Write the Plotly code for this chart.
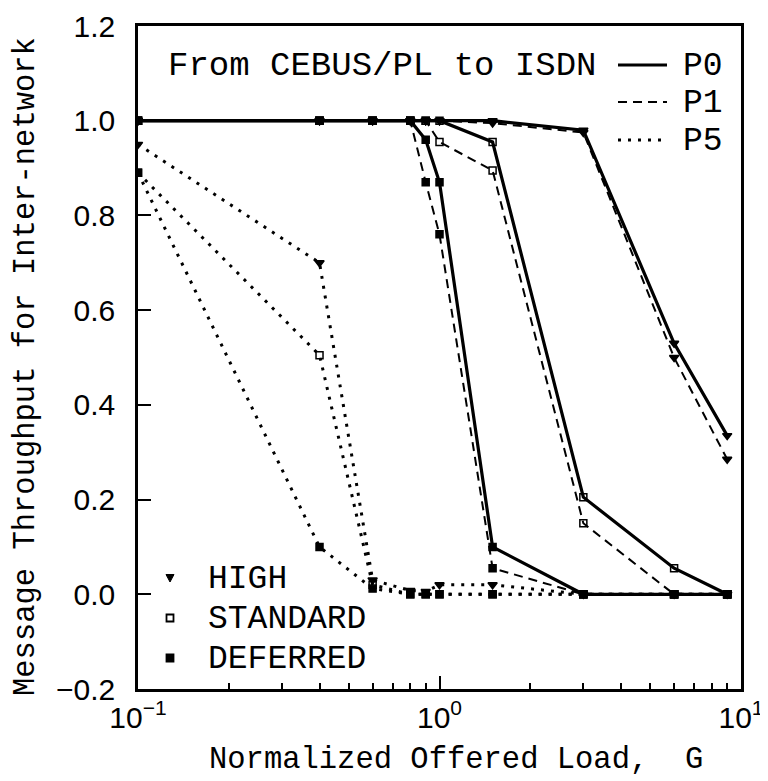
import plotly.graph_objects as go

# ---------------- data ----------------
G = [0.1, 0.4, 0.6, 0.8, 0.9, 1.0, 1.5, 3, 6, 9]

HIGH_P0 = [1.0, 1.0, 1.0, 1.0, 1.0, 1.0, 1.0, 0.98, 0.53, 0.335]
HIGH_P1 = [1.0, 1.0, 1.0, 1.0, 1.0, 1.0, 0.995, 0.975, 0.50, 0.285]
HIGH_P5 = [0.95, 0.70, 0.03, 0.008, 0.006, 0.02, 0.02, 0.0, 0.0, 0.0]

STANDARD_P0 = [1.0, 1.0, 1.0, 1.0, 1.0, 1.0, 0.955, 0.205, 0.055, 0.0]
STANDARD_P1 = [1.0, 1.0, 1.0, 1.0, 1.0, 0.955, 0.895, 0.15, 0.0, 0.0]
STANDARD_P5 = [0.89, 0.505, 0.02, 0.0, 0.0, 0.0, 0.0, 0.0, 0.0, 0.0]

DEFERRED_P0 = [1.0, 1.0, 1.0, 1.0, 0.96, 0.87, 0.10, 0.0, 0.0, 0.0]
DEFERRED_P1 = [1.0, 1.0, 1.0, 1.0, 0.87, 0.76, 0.055, 0.0, 0.0, 0.0]
DEFERRED_P5 = [0.89, 0.10, 0.012, 0.0, 0.0, 0.0, 0.0, 0.0, 0.0, 0.0]

PRIORITIES = ["HIGH", "STANDARD", "DEFERRED"]
PROTOCOLS = ["P0", "P1", "P5"]
SERIES = {
    ("HIGH", "P0"): HIGH_P0, ("HIGH", "P1"): HIGH_P1, ("HIGH", "P5"): HIGH_P5,
    ("STANDARD", "P0"): STANDARD_P0, ("STANDARD", "P1"): STANDARD_P1, ("STANDARD", "P5"): STANDARD_P5,
    ("DEFERRED", "P0"): DEFERRED_P0, ("DEFERRED", "P1"): DEFERRED_P1, ("DEFERRED", "P5"): DEFERRED_P5,
}
X_TICKVALS = [0.1, 1, 10]
X_TICKTEXT = ["10<sup>\u22121</sup>", "10<sup>0</sup>", "10<sup>1</sup>"]
X_MINOR = [0.2, 0.3, 0.4, 0.5, 0.6, 0.7, 0.8, 0.9, 2, 3, 4, 5, 6, 7, 8, 9]
ANNOT_TEXT = "From CEBUS/PL to ISDN"
X_TITLE = "Normalized Offered Load,\u00a0 G"
Y_TITLE = "Message Throughput for Inter-network"

# ---------------- styles ----------------
SYMBOL = {"HIGH": "triangle-down", "STANDARD": "square-open", "DEFERRED": "square"}
MSIZE = {"HIGH": 8, "STANDARD": 7, "DEFERRED": 7}
LINE = {"P0": dict(width=3.2, dash="solid"),
        "P1": dict(width=2, dash="9px,6px"),
        "P5": dict(width=3, dash="3px,7px")}

# page is 768x781 but the html body adds an 8px margin, so the figure
# itself is 8px smaller and all page-pixel positions are shifted by 8.
OFF = 8
PAGE_W, PAGE_H = 768, 781
W, H = PAGE_W - OFF, PAGE_H - OFF
L, R, T, B = 138, 741, 26, 689   # plot area in page pixels


def px(x):
    return (x - L) / (R - L)


def py(y):
    return 1 - (y - T) / (B - T)


MONO = "Liberation Mono, Courier New, monospace"
SANS = "Liberation Sans, Arial, sans-serif"

fig = go.Figure()
for prot in ["P5", "P1", "P0"]:
    for pr in PRIORITIES:
        fig.add_trace(go.Scatter(
            x=G, y=SERIES[(pr, prot)], mode="lines+markers",
            name=f"{pr} {prot}", showlegend=False,
            line=dict(color="black", **LINE[prot]),
            marker=dict(symbol=SYMBOL[pr], size=MSIZE[pr], color="black",
                        line=dict(color="black", width=1.5)),
        ))

shapes = []
annotations = []

# top annotation
annotations.append(dict(text=ANNOT_TEXT, xref="paper", yref="paper",
                        x=px(166), y=py(66), xanchor="left", yanchor="middle",
                        showarrow=False, font=dict(family=MONO, size=34, color="black")))

# line-style key (top right)
for prot, yc in zip(PROTOCOLS, [65, 102, 140]):
    st = LINE[prot]
    shapes.append(dict(type="line", xref="paper", yref="paper",
                       x0=px(618), x1=px(667), y0=py(yc), y1=py(yc),
                       line=dict(color="black", width=st["width"], dash=st["dash"])))
    annotations.append(dict(text=prot, xref="paper", yref="paper",
                            x=px(681), y=py(yc + 1), xanchor="left", yanchor="middle",
                            showarrow=False, font=dict(family=MONO, size=33, color="black")))

# priority (marker) key (bottom left)
for pr, yc in zip(PRIORITIES, [578, 618, 658]):
    cx = 170
    if pr == "HIGH":
        path = (f"M{px(cx-4)},{py(yc-3.5)} L{px(cx+4)},{py(yc-3.5)} "
                f"L{px(cx)},{py(yc+4)} Z")
        shapes.append(dict(type="path", xref="paper", yref="paper", path=path,
                           fillcolor="black", line=dict(color="black", width=1)))
    else:
        filled = pr == "DEFERRED"
        shapes.append(dict(type="rect", xref="paper", yref="paper",
                           x0=px(cx - 3.5), x1=px(cx + 3.5), y0=py(yc - 3.5), y1=py(yc + 3.5),
                           fillcolor="black" if filled else "white",
                           line=dict(color="black", width=1.8)))
    annotations.append(dict(text=pr, xref="paper", yref="paper",
                            x=px(206), y=py(yc + 1), xanchor="left", yanchor="middle",
                            showarrow=False, font=dict(family=MONO, size=33, color="black")))

# axis titles
annotations.append(dict(text=X_TITLE, xref="paper", yref="paper",
                        x=px(456), y=py(760), xanchor="center", yanchor="middle",
                        showarrow=False, font=dict(family=MONO, size=30.5, color="black")))
annotations.append(dict(text=Y_TITLE, xref="paper", yref="paper", textangle=-90,
                        x=px(26), y=py(367), xanchor="center", yanchor="middle",
                        showarrow=False, font=dict(family=MONO, size=30.5, color="black")))

fig.update_layout(
    width=W, height=H,
    margin=dict(l=L - OFF, r=PAGE_W - R, t=T - OFF, b=PAGE_H - B, pad=0),
    paper_bgcolor="white", plot_bgcolor="white",
    showlegend=False,
    shapes=shapes, annotations=annotations,
)
fig.update_xaxes(
    type="log", range=[-1, 1], tickvals=X_TICKVALS, ticktext=X_TICKTEXT,
    ticks="inside", ticklen=13, tickwidth=2, tickcolor="black",
    minor=dict(tickvals=X_MINOR, ticks="inside", ticklen=6, tickwidth=1.5,
               tickcolor="black", showgrid=False),
    showline=True, mirror=True, linewidth=2.5, linecolor="black",
    showgrid=False, zeroline=False, automargin=False,
    tickfont=dict(family=SANS, size=30, color="black"), ticklabelstandoff=0,
)
fig.update_yaxes(
    range=[-0.2, 1.2], dtick=0.2, tick0=0, tickformat=".1f",
    ticks="inside", ticklen=13, tickwidth=2, tickcolor="black",
    showline=True, mirror=True, linewidth=2.5, linecolor="black",
    showgrid=False, zeroline=False, automargin=False,
    tickfont=dict(family=SANS, size=30, color="black"), ticklabelstandoff=14,
)

fig.write_html("out.html")
